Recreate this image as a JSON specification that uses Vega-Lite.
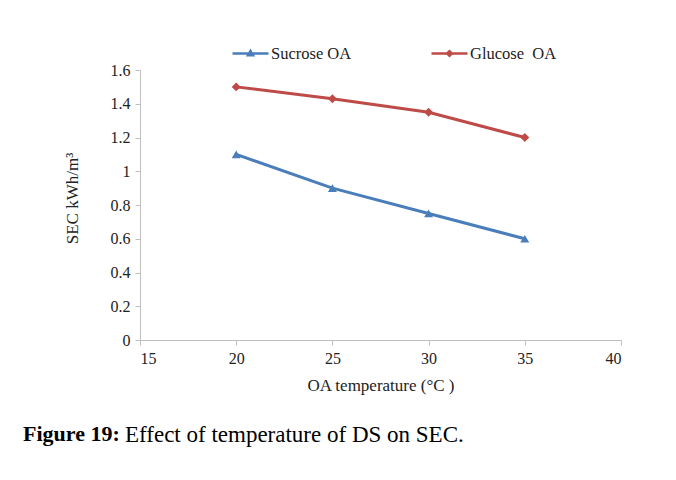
{
  "$schema": "https://vega.github.io/schema/vega-lite/v6.json",
  "width": 481,
  "height": 270,
  "autosize": {"type": "none"},
  "padding": {"left": 140, "top": 70, "right": 55, "bottom": 140},
  "background": "white",
  "config": {"view": {"stroke": null}, "font": "Liberation Serif"},
  "data": {
    "values": [
      {"temp": 20, "sec": 1.1, "series": "Sucrose OA"},
      {"temp": 25, "sec": 0.9, "series": "Sucrose OA"},
      {"temp": 30, "sec": 0.75, "series": "Sucrose OA"},
      {"temp": 35, "sec": 0.6, "series": "Sucrose OA"},
      {"temp": 20, "sec": 1.5, "series": "Glucose OA"},
      {"temp": 25, "sec": 1.43, "series": "Glucose OA"},
      {"temp": 30, "sec": 1.35, "series": "Glucose OA"},
      {"temp": 35, "sec": 1.2, "series": "Glucose OA"}
    ]
  },
  "encoding": {
    "x": {
      "field": "temp",
      "type": "quantitative",
      "scale": {"domain": [15, 40], "nice": false, "zero": false},
      "axis": {
        "values": [15, 20, 25, 30, 35, 40],
        "title": "OA temperature (°C )",
        "grid": false,
        "domainColor": "#BFBFBF",
        "tickColor": "#BFBFBF",
        "tickSize": 5,
        "labelFont": "Liberation Serif",
        "labelFontSize": 16,
        "labelColor": "#222222",
        "labelPadding": 5,
        "titleFont": "Liberation Serif",
        "titleFontSize": 17,
        "titleFontWeight": "normal",
        "titleColor": "#222222",
        "titlePadding": 11
      }
    },
    "y": {
      "field": "sec",
      "type": "quantitative",
      "scale": {"domain": [0, 1.6], "nice": false},
      "axis": {
        "values": [0, 0.2, 0.4, 0.6, 0.8, 1, 1.2, 1.4, 1.6],
        "format": ".1~f",
        "title": "SEC kWh/m³",
        "grid": false,
        "domainColor": "#BFBFBF",
        "tickColor": "#BFBFBF",
        "tickSize": 5,
        "labelFont": "Liberation Serif",
        "labelFontSize": 16,
        "labelColor": "#222222",
        "labelPadding": 5,
        "titleFont": "Liberation Serif",
        "titleFontSize": 17,
        "titleFontWeight": "normal",
        "titleColor": "#222222",
        "titlePadding": 29,
        "titleY": 128
      }
    },
    "color": {
      "field": "series",
      "type": "nominal",
      "scale": {"domain": ["Sucrose OA", "Glucose OA"], "range": ["#4A7EBB", "#BE4B48"]},
      "legend": {
        "title": null,
        "orient": "none",
        "direction": "horizontal",
        "legendX": 91,
        "legendY": -36,
        "symbolSize": 1296,
        "symbolStrokeWidth": 2.5,
        "labelFont": "Liberation Serif",
        "labelFontSize": 16.5,
        "labelColor": "#222222",
        "labelOffset": 1,
        "columnPadding": 74,
        "labelExpr": "datum.label == 'Glucose OA' ? 'Glucose\u00a0 OA' : datum.label",
        "encode": {
          "symbols": {
            "update": {
              "shape": {"signal": "datum.value == 'Sucrose OA' ? 'M-1,0H1M-0.14,0.1L0,-0.14L0.14,0.1Z' : 'M-1,0H1M-0.13,0L0,-0.13L0.13,0L0,0.13Z'"},
              "fill": {"signal": "scale('color', datum.value)"},
              "stroke": {"signal": "scale('color', datum.value)"},
              "strokeWidth": {"value": 2.5},
              "opacity": {"value": 1}
            }
          }
        }
      }
    }
  },
  "layer": [
    {"mark": {"type": "line", "strokeWidth": 3}},
    {
      "transform": [{"filter": "datum.series == 'Sucrose OA'"}],
      "mark": {"type": "point", "filled": true, "size": 80, "opacity": 1, "shape": "triangle-up"}
    },
    {
      "transform": [{"filter": "datum.series == 'Glucose OA'"}],
      "mark": {"type": "point", "filled": true, "size": 80, "opacity": 1, "shape": "diamond"}
    }
  ],
  "title": {
    "text": "Figure 19:",
    "subtitle": "Effect of temperature of DS on SEC.",
    "orient": "bottom",
    "anchor": "start",
    "frame": "group",
    "dx": -117,
    "offset": 31,
    "font": "Liberation Serif",
    "fontSize": 22,
    "fontWeight": "bold",
    "color": "black",
    "subtitleFont": "Liberation Serif",
    "subtitleFontSize": 22,
    "subtitleFontWeight": "normal",
    "subtitleColor": "black",
    "subtitlePadding": -22,
    "encode": {
      "title": {"update": {"font": {"value": "Liberation Serif"}, "fontWeight": {"value": "bold"}, "fontSize": {"value": 22}}},
      "subtitle": {"update": {"dx": {"value": -15}, "font": {"value": "Liberation Serif"}, "fontWeight": {"value": "normal"}, "fontSize": {"value": 23}}}
    }
  }
}
